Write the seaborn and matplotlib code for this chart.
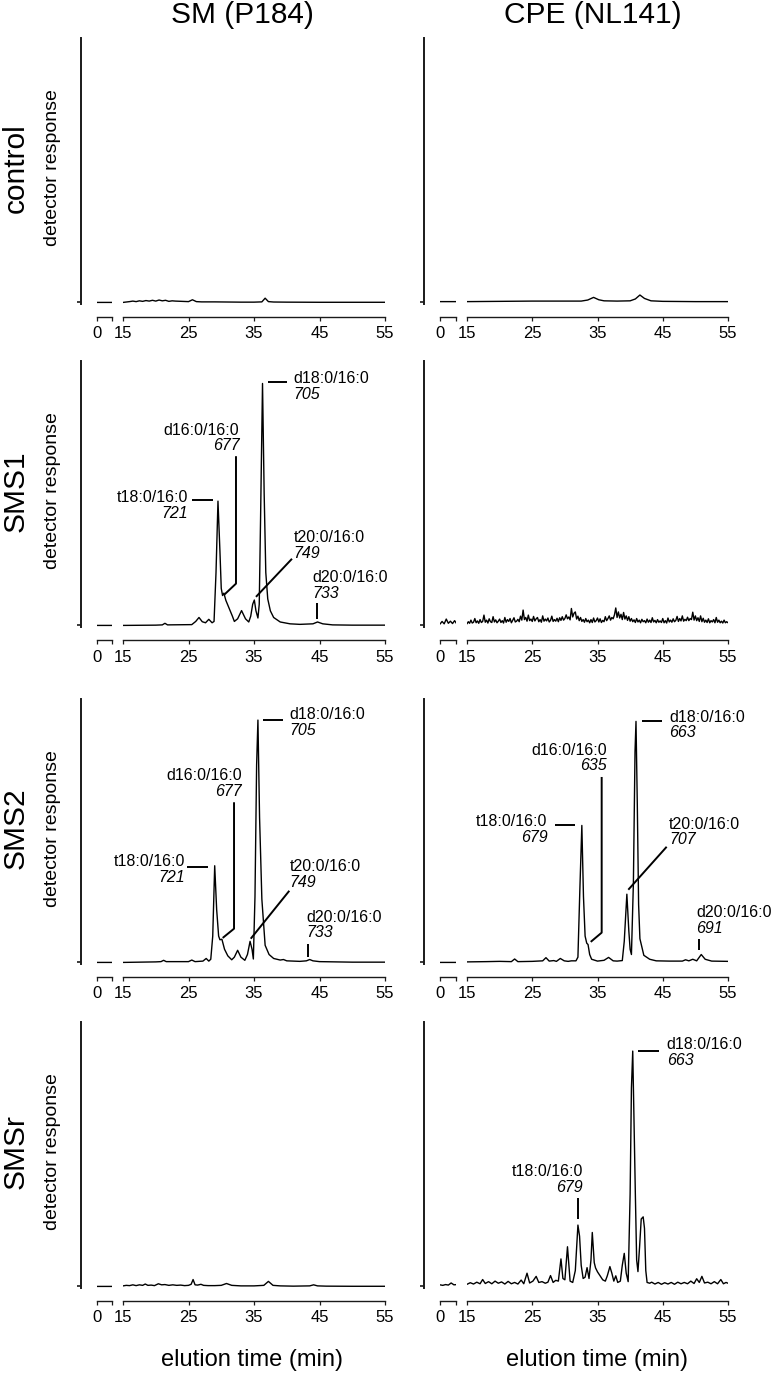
import numpy as np
import pandas as pd
import seaborn as sns
import matplotlib.pyplot as plt

# ---------------- data ----------------
# time in min, detector response in % of full scale
row_names = ["control", "SMS1", "SMS2", "SMSr"]
col_names = ["SM (P184)", "CPE (NL141)"]
species = ["t18:0/16:0", "d16:0/16:0", "d18:0/16:0", "t20:0/16:0", "d20:0/16:0"]
sm_mz = ["721", "677", "705", "749", "733"]
cpe_mz = ["679", "635", "663", "707", "691"]
xticks_main = [15, 25, 35, 45, 55]

sm_control_t = [0, 2.4, 15, 16, 16.5, 17, 17.5, 18, 18.5, 19, 19.5, 20, 20.5, 21, 21.5, 22, 22.5, 23, 24, 25,
                25.6, 26.2, 27, 29, 31, 33, 35, 36.2, 36.7, 37.2, 38, 40, 45, 50, 55]
sm_control_y = [0, 0, 0, 0.3, 0.5, 0.3, 0.6, 0.4, 0.7, 0.5, 0.8, 0.5, 0.9, 0.6, 0.8, 0.4, 0.6, 0.5, 0.4, 0.3,
                1.0, 0.3, 0.2, 0.2, 0.15, 0.1, 0.1, 0.2, 1.6, 0.3, 0.15, 0.1, 0.05, 0.05, 0.05]

cpe_control_t = [0, 2.4, 15, 20, 25, 30, 32.5, 33.5, 34.4, 35.2, 36, 38, 40, 40.8, 41.5, 42.2, 43.2, 45, 50, 55]
cpe_control_y = [0.3, 0.3, 0.3, 0.4, 0.5, 0.5, 0.5, 0.9, 1.9, 1.0, 0.6, 0.5, 0.6, 1.3, 2.8, 1.5, 0.6, 0.4, 0.3, 0.3]

sm_sms1_t = [0, 2.4, 15, 20, 21.0, 21.4, 21.8, 25.5, 26.1, 26.6, 27.1, 27.6, 28.1, 28.6, 28.9, 29.2, 29.5,
             29.8, 30.0, 30.2, 30.4, 30.7, 31.2, 31.7, 32.0, 32.5, 33.1, 33.7, 34.2, 34.5, 34.8, 35.05, 35.3,
             35.6, 35.8, 36.0, 36.3, 36.55, 36.8, 37.1, 37.5, 38.0, 39.0, 40.5, 42.0, 44.0, 44.7, 45.5, 47, 50, 55]
sm_sms1_y = [0, 0, 0, 0.1, 0.2, 0.8, 0.2, 0.3, 1.5, 3.0, 1.4, 1.0, 2.3, 1.0, 1.5, 20, 47,
             28, 14, 11.3, 12.2, 9.5, 6.5, 3.5, 1.5, 2.5, 5.6, 2.5, 1.3, 3.5, 8, 9.6, 5.5,
             2.8, 8, 40, 91.5, 50, 20, 10, 5.5, 3, 1.3, 0.6, 0.4, 0.6, 1.3, 0.6, 0.2, 0.1, 0.1]

# noisy trace: small segment, then one reading every 0.2 min from 15 to 55
cpe_sms1_t = [0, 0.3, 0.6, 0.9, 1.2, 1.5, 1.8, 2.1, 2.4] + list(np.round(np.arange(15, 55.01, 0.2), 1))
cpe_sms1_y = [0.5, 1.5, 0.6, 2.4, 0.8, 1.6, 0.7, 1.8, 0.6,
              0.6, 1.4, 0.8, 2.0, 0.9, 1.2, 2.6, 1.0, 1.7, 0.8,
              2.2, 1.1, 1.5, 3.9, 1.2, 2.0, 0.9, 2.5, 1.4, 1.1,
              3.3, 1.3, 2.1, 1.0, 1.6, 2.4, 1.1, 1.8, 0.9, 3.0,
              1.2, 2.2, 1.5, 2.6, 1.0, 1.9, 2.9, 1.3, 1.6, 2.3,
              1.4, 3.5, 2.0, 5.8, 2.2, 3.0, 1.6, 3.9, 1.8, 2.4,
              1.5, 3.4, 1.7, 2.5, 3.0, 1.4, 2.2, 1.2, 3.6, 1.6,
              2.4, 1.7, 2.8, 1.3, 1.9, 3.5, 1.5, 2.2, 1.6, 2.7,
              1.4, 2.9, 1.9, 3.3, 2.0, 2.6, 4.0, 2.5, 3.2, 2.1,
              6.4, 3.2, 4.6, 5.1, 2.4, 3.5, 1.8, 3.0, 1.5, 2.2,
              1.2, 2.6, 1.4, 2.0, 1.0, 2.2, 1.1, 2.8, 1.3, 1.8,
              2.8, 1.3, 2.5, 1.1, 1.9, 1.4, 3.3, 1.8, 2.6, 3.6,
              2.0, 3.0, 2.5, 4.0, 6.6, 3.0, 5.1, 2.8, 4.2, 2.2,
              4.9, 2.4, 3.6, 1.9, 3.3, 1.6, 2.6, 1.4, 2.1, 1.1,
              2.6, 1.3, 2.0, 1.0, 2.3, 1.4, 1.8, 1.0, 2.4, 1.2,
              2.0, 1.1, 2.9, 1.3, 1.9, 1.0, 2.2, 1.2, 1.7, 1.1,
              2.6, 1.0, 1.8, 0.9, 2.8, 1.3, 2.0, 1.2, 2.5, 1.4,
              1.9, 3.4, 1.5, 2.6, 1.7, 3.6, 1.6, 2.3, 1.8, 3.1,
              1.8, 2.6, 2.2, 5.0, 2.0, 3.6, 1.8, 2.9, 1.5, 3.6,
              1.4, 2.7, 1.2, 2.0, 1.1, 2.5, 1.0, 1.8, 1.3, 2.2,
              1.0, 3.0, 1.2, 2.0, 1.0, 1.6, 0.9, 2.0, 1.0, 1.4,
              1.0]

sm_sms2_t = [0, 2.4, 15, 20, 20.8, 21.2, 21.6, 25, 25.5, 26, 27.2, 27.7, 28.1, 28.4, 28.7, 29.0, 29.3, 29.6,
             29.8, 30.1, 30.5, 31.0, 31.6, 32.0, 32.5, 33.0, 33.6, 34.0, 34.4, 34.7, 34.9, 35.15, 35.4, 35.6,
             35.85, 36.2, 36.7, 37.3, 38.0, 39.0, 39.5, 40.0, 42.0, 43.0, 43.5, 44.0, 45, 50, 55]
sm_sms2_y = [0, 0, 0, 0.2, 0.3, 0.8, 0.3, 0.3, 0.9, 0.3, 0.5, 1.5, 0.5, 1.2, 10, 36.7, 20, 10,
             8.6, 8.8, 5, 2.5, 1.0, 2.0, 4.6, 2.0, 0.8, 3, 8, 5, 1.3, 25, 75, 92,
             55, 24, 6.5, 3, 1.5, 0.9, 1.1, 0.6, 0.4, 0.6, 1.1, 0.6, 0.3, 0.1, 0.1]

cpe_sms2_t = [0, 2.4, 15, 18, 20, 21.8, 22.3, 22.8, 25, 26.6, 27.1, 27.6, 28.3, 28.7, 29.3, 29.9, 30.5, 31.0,
              31.7, 32.0, 32.3, 32.6, 32.85, 33.1, 33.35, 33.55, 33.8, 34.1, 35.0, 36.0, 36.7, 37.4, 38.0,
              38.8, 39.1, 39.5, 39.8, 40.0, 40.2, 40.5, 40.75, 40.9, 41.1, 41.3, 41.5, 42.1, 43.0, 44, 46, 48,
              48.5, 49.0, 49.6, 50.2, 50.9, 51.5, 52.5, 55]
cpe_sms2_y = [0, 0, 0.2, 0.3, 0.4, 0.3, 1.3, 0.3, 0.4, 0.6, 1.8, 0.5, 0.7, 0.4, 1.5, 0.6, 0.4, 0.6,
              0.6, 2, 28, 52, 25, 10, 7.3, 6.8, 3, 1.2, 0.5, 0.8, 1.9, 0.6, 0.5,
              0.7, 8, 25.9, 12, 5, 3, 30, 80, 91.5, 60, 22, 9, 2.7, 1.2, 0.6, 0.5, 0.5,
              1.0, 0.6, 1.2, 0.6, 3.0, 1.2, 0.5, 0.4]

sm_smsr_t = [0, 2.4, 15, 15.5, 16, 16.5, 17, 17.5, 18, 18.4, 18.8, 19.3, 19.8, 20.4, 20.9, 21.4, 22, 22.6,
             23.2, 23.8, 24.4, 25.0, 25.4, 25.7, 26.0, 26.4, 26.9, 27.3, 28, 29, 30, 30.8, 31.6, 33, 35,
             36.5, 37.2, 37.9, 39, 41, 43.5, 44.1, 44.7, 46, 50, 55]
sm_smsr_y = [0, 0, 0.2, 0.4, 0.3, 0.6, 0.3, 0.6, 0.4, 0.9, 0.4, 0.5, 0.3, 1.0, 0.6, 0.7, 0.4, 0.6,
             0.4, 0.5, 0.3, 0.4, 0.8, 2.6, 0.6, 0.5, 0.8, 0.4, 0.3, 0.3, 0.4, 1.1, 0.4, 0.2, 0.2,
             0.4, 1.9, 0.4, 0.2, 0.1, 0.2, 0.6, 0.2, 0.1, 0.05, 0.05]

cpe_smsr_t = [0, 0.4, 0.8, 1.2, 1.6, 2.0, 2.4,
              15.0, 15.5, 16.0, 16.5, 17.0, 17.4, 17.8, 18.3, 18.8, 19.3,
              19.8, 20.3, 20.8, 21.3, 21.8, 22.3, 22.8, 23.3, 23.7, 24.2,
              24.6, 25.1, 25.6, 26.0, 26.5, 27.0, 27.4, 27.8, 28.2, 28.6,
              29.0, 29.4, 29.7, 30.0, 30.4, 30.8, 31.2, 31.6, 32.0, 32.25,
              32.5, 32.8, 33.1, 33.4, 33.7, 34.0, 34.2, 34.5, 34.7, 35.0,
              35.4, 35.8, 36.2, 36.5, 36.9, 37.2, 37.5, 37.8, 38.1, 38.5,
              38.8, 39.1, 39.4, 39.7, 40.0, 40.2, 40.4, 40.6, 40.8, 41.0,
              41.2, 41.45, 41.7, 42.0, 42.2, 42.4, 42.6, 43.0, 43.3, 43.8,
              44.3, 44.8, 45.3, 45.8, 46.3, 46.8, 47.3, 47.8, 48.3, 48.8,
              49.3, 49.8, 50.2, 50.6, 51.0, 51.4, 51.9, 52.4, 52.9, 53.4,
              53.9, 54.3, 54.7, 55.0]
cpe_smsr_y = [0.6, 0.4, 0.7, 0.5, 1.3, 0.6, 0.7,
              0.8, 1.4, 0.9, 1.6, 1.0, 2.6, 1.1, 1.8, 1.0, 2.0,
              1.2, 1.7, 0.9, 1.9, 1.0, 1.5, 0.9, 2.4, 1.0, 5.0,
              1.3, 2.0, 3.8, 1.5, 1.8, 1.2, 1.6, 4.1, 1.5, 2.3,
              2.0, 10.4, 3.0, 2.5, 15.0, 2.0, 1.5, 6.0, 23.2, 19.0,
              8.0, 3.0, 3.5, 7.1, 3.0, 10, 20.4, 9.0, 7.0, 5.5,
              4.0, 2.5, 2.0, 4.0, 7.5, 5.0, 2.0, 4.0, 1.5, 2.0,
              8.0, 12.5, 5.0, 1.8, 35, 75, 89, 62, 35, 10,
              5.6, 15, 25.5, 26.3, 22, 6, 1.5, 1.2, 1.6, 0.9,
              1.5, 0.8, 1.4, 0.9, 1.5, 0.8, 1.6, 1.0, 1.5, 1.0,
              2.0, 1.1, 2.9, 1.5, 3.8, 1.3, 1.6, 1.0, 1.8, 1.0,
              2.6, 1.0, 1.5, 1.2]

traces = [[(sm_control_t, sm_control_y), (cpe_control_t, cpe_control_y)],
          [(sm_sms1_t, sm_sms1_y), (cpe_sms1_t, cpe_sms1_y)],
          [(sm_sms2_t, sm_sms2_y), (cpe_sms2_t, cpe_sms2_y)],
          [(sm_smsr_t, sm_smsr_y), (cpe_smsr_t, cpe_smsr_y)]]
mz_lists = [sm_mz, cpe_mz]

# ---------------- layout ----------------
W, H = 775, 1373
row_top = [38, 361, 699, 1022]
row_base = [304, 627, 964, 1288]
col_px = [(97, 112, 123, 385), (440, 456, 467, 728)]  # small start/end, main start/end

# peak labels: (species idx, text x, text y (baseline), align, leader xs, leader ys)
annot = {
    (1, 0): [(0, 24.97, 46.5, "right", [25.6, 28.8], [47.4, 47.4]),
             (1, 32.76, 72.2, "right", [32.25, 32.25, 30.47], [64.0, 15.8, 11.65]),
             (2, 41.0, 91.6, "left", [37.2, 40.1], [92.0, 92.0]),
             (3, 41.0, 31.5, "left", [40.8, 35.3], [25.2, 10.8]),
             (4, 43.9, 16.4, "left", [44.57, 44.57], [8.3, 2.4])],
    (2, 0): [(0, 24.47, 36.6, "right", [24.82, 28.02], [36.3, 36.3]),
             (1, 33.12, 69.2, "right", [31.95, 31.95, 30.22], [60.8, 12.8, 9.3]),
             (2, 40.39, 92.4, "left", [36.42, 39.38], [92.2, 92.2]),
             (3, 40.39, 34.7, "left", [40.39, 34.5], [27.2, 9.0]),
             (4, 43.05, 15.5, "left", [43.29, 43.29], [7.1, 2.1])],
    (2, 1): [(0, 27.31, 51.6, "right", [28.49, 31.55], [52.0, 52.0]),
             (1, 36.41, 78.8, "right", [35.64, 35.64, 33.96], [70.4, 11.3, 7.8]),
             (2, 45.96, 91.4, "left", [41.77, 44.94], [91.7, 91.7]),
             (3, 45.96, 50.8, "left", [45.6, 39.72], [43.9, 27.6]),
             (4, 50.1, 17.2, "left", [50.6, 50.6], [9.0, 4.6])],
    (3, 1): [(0, 32.73, 41.6, "right", [31.96, 31.96], [33.3, 25.6]),
             (2, 45.6, 89.7, "left", [41.25, 44.47], [89.1, 89.1])],
}

sns.set_theme(style="ticks")
plt.rcParams['font.family'] = ['Liberation Sans', 'DejaVu Sans']
plt.rcParams['text.color'] = 'black'
ink = "#1a1a1a"

fig = plt.figure(figsize=(W / 100, H / 100), dpi=100)


def px_axes(x0, x1, y0, y1):
    return fig.add_axes([x0 / W, 1 - y1 / H, (x1 - x0) / W, (y1 - y0) / H])


for r in range(4):
    for c in range(2):
        t, y = traces[r][c]
        df = pd.DataFrame({"time": t, "response": y})
        s0, s1, m0, m1 = col_px[c]
        ax_s = px_axes(s0, s1, row_top[r], row_base[r])
        ax_m = px_axes(m0, m1, row_top[r], row_base[r])
        for ax in (ax_s, ax_m):
            sns.lineplot(data=df, x="time", y="response", ax=ax, color="black",
                         linewidth=1.0, errorbar=None)
            ax.set_ylim(-0.6, 100)
            ax.set_xlabel("")
            ax.set_ylabel("")
            ax.patch.set_alpha(0)
            ax.tick_params(axis="x", length=3.2, width=0.9, pad=3.5, labelsize=12,
                           color=ink, labelcolor="black")
        ax_s.set_xlim(0, 2.3)
        ax_m.set_xlim(15, 55)
        ax_s.set_xticks([0, 2.3], ["0", ""])
        ax_m.set_xticks(xticks_main, [str(v) for v in xticks_main])
        ax_s.set_yticks([0], [""])
        ax_s.tick_params(axis="y", length=3, width=1.2, color=ink)
        ax_m.set_yticks([])
        sns.despine(ax=ax_s, offset={"left": 11.5, "bottom": 9.5})
        sns.despine(ax=ax_m, left=True, offset={"bottom": 9.5})
        ax_s.spines["left"].set_linewidth(1.4)
        ax_s.spines["left"].set_color(ink)
        for ax in (ax_s, ax_m):
            ax.spines["bottom"].set_linewidth(1.0)
            ax.spines["bottom"].set_color(ink)

        for idx, tx, ty, ha, lx, ly in annot.get((r, c), []):
            ax_m.plot(lx, ly, color="black", linewidth=1.4, clip_on=False,
                      solid_capstyle="butt")
            ax_m.text(tx, ty, species[idx], ha=ha, va="baseline", fontsize=11.5)
            ax_m.annotate(mz_lists[c][idx], (tx, ty), xytext=(0, -11.2),
                          textcoords="offset points", ha=ha, va="baseline",
                          fontsize=11.5, style="italic")

    yc = (row_top[r] + row_base[r]) / 2 - 3
    fig.text(16 / W, 1 - yc / H, row_names[r], rotation=90, ha="center",
             va="center", fontsize=21.5)
    fig.text(53 / W, 1 - yc / H, "detector response", rotation=90, ha="center",
             va="center", fontsize=14)

fig.text(242 / W, 1 - 23 / H, col_names[0], ha="center", va="baseline", fontsize=21.5)
fig.text(593 / W, 1 - 23 / H, col_names[1], ha="center", va="baseline", fontsize=21.5)
fig.text(252 / W, 1 - 1366 / H, "elution time (min)", ha="center", va="baseline", fontsize=17)
fig.text(597 / W, 1 - 1366 / H, "elution time (min)", ha="center", va="baseline", fontsize=17)

fig.savefig("out.png", dpi=100)
